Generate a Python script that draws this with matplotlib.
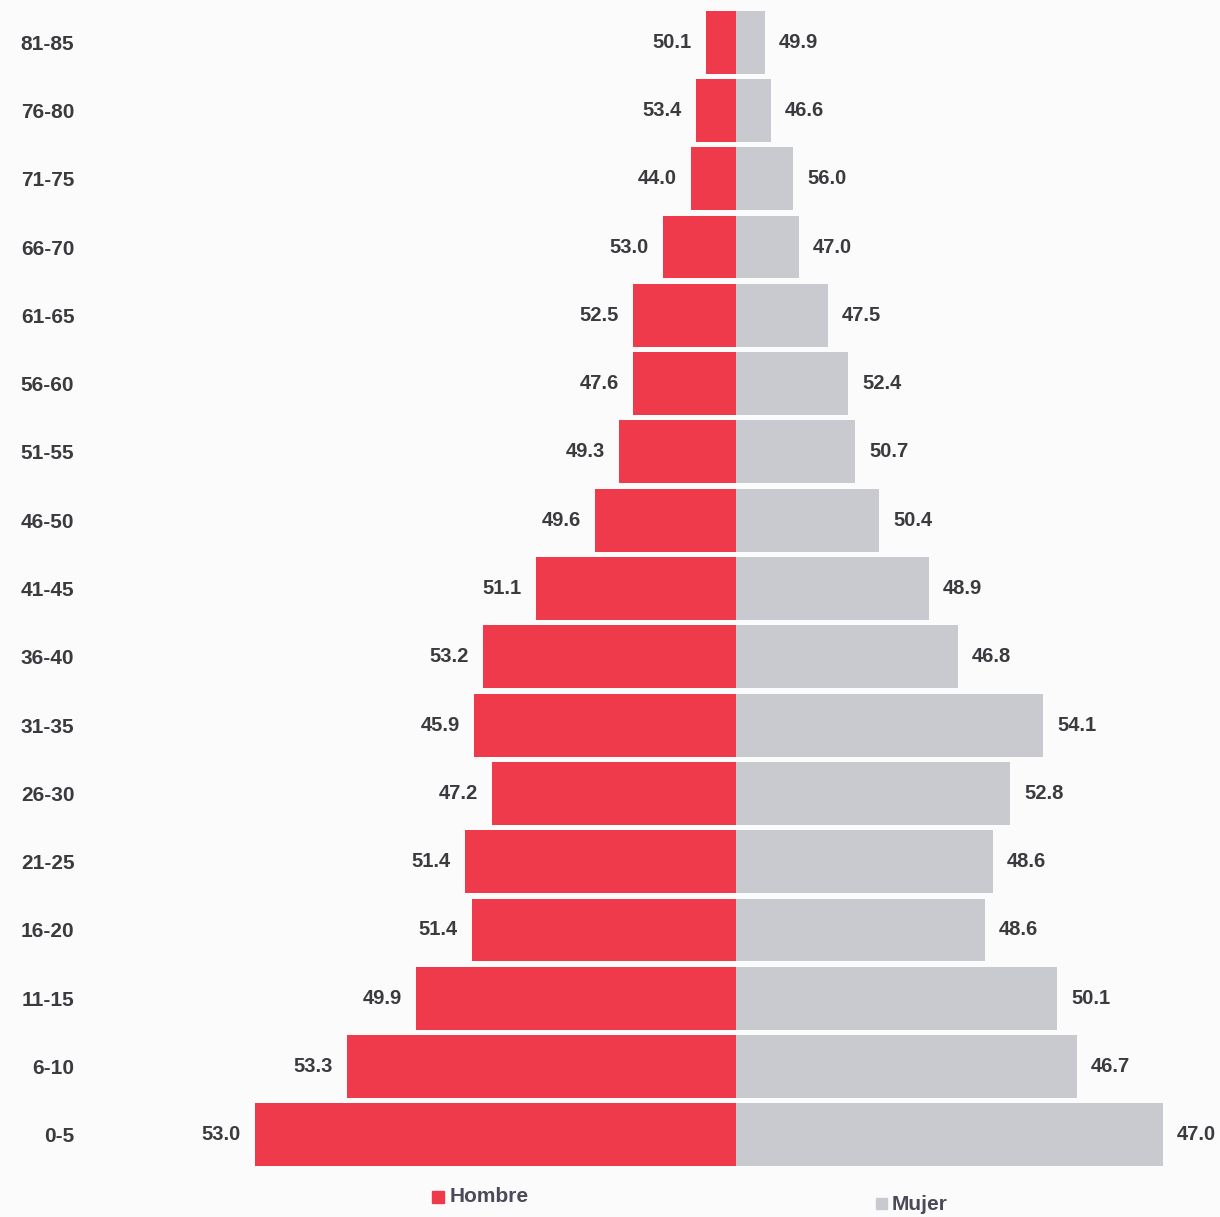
import matplotlib.pyplot as plt
from matplotlib.patches import Rectangle

plt.rcParams['font.family'] = ['Liberation Sans Narrow', 'Liberation Sans', 'DejaVu Sans']
plt.rcParams['font.weight'] = 'bold'

# grupos de edad, de abajo hacia arriba
edades = ['0-5', '6-10', '11-15', '16-20', '21-25', '26-30', '31-35', '36-40',
          '41-45', '46-50', '51-55', '56-60', '61-65', '66-70', '71-75', '76-80', '81-85']
# largo de las barras (poblacion relativa)
hombres = [481, 389, 320, 264, 271, 244, 262, 253, 200, 141, 117, 103, 103, 73, 45, 40, 30]
mujeres = [427, 341, 321, 249, 257, 274, 307, 222, 193, 143, 119, 112, 92, 63, 57, 35, 29]
# porcentaje por sexo dentro de cada grupo
pct_hombres = [53.0, 53.3, 49.9, 51.4, 51.4, 47.2, 45.9, 53.2, 51.1, 49.6, 49.3, 47.6, 52.5, 53.0, 44.0, 53.4, 50.1]
pct_mujeres = [47.0, 46.7, 50.1, 48.6, 48.6, 52.8, 54.1, 46.8, 48.9, 50.4, 50.7, 52.4, 47.5, 47.0, 56.0, 46.6, 49.9]

rojo = '#ee3a4b'
gris = '#c9c9d0'
texto = '#3b3b3f'
fondo = '#fbfbfb'

fig = plt.figure(figsize=(12.2, 12.17), dpi=100, facecolor=fondo)
ax = fig.add_axes([98 / 1220, 1 - 1169 / 1217, 1 - 98 / 1220, 1161 / 1217])
ax.set_facecolor(fondo)

y = list(range(len(edades)))
ax.barh(y, [-h for h in hombres], height=0.92, color=rojo, edgecolor='none')
ax.barh(y, mujeres, height=0.92, color=gris, edgecolor='none')

# etiquetas de porcentaje
for i in y:
    ax.text(-hombres[i] - 14, i, f'{pct_hombres[i]:.1f}', ha='right', va='center',
            fontsize=14.5, color=texto, fontweight='bold')
    ax.text(mujeres[i] + 14, i, f'{pct_mujeres[i]:.1f}', ha='left', va='center',
            fontsize=14.5, color=texto, fontweight='bold')

ax.set_xlim(-638, 484)
ax.set_ylim(-0.5, len(edades) - 0.5)
ax.set_yticks(y)
ax.set_yticklabels(edades, fontsize=15, color=texto, fontweight='bold')
ax.tick_params(axis='y', length=0, pad=17)
ax.set_xticks([])
for s in ax.spines.values():
    s.set_visible(False)

# leyenda
fig.patches.append(Rectangle((432 / 1220, 1 - 1203 / 1217), 12 / 1220, 12 / 1217,
                             transform=fig.transFigure, color=rojo))
fig.text(450 / 1220, 1 - 1197 / 1217, 'Hombre', ha='left', va='center',
         fontsize=15, color='#4a4a58', fontweight='bold')
fig.patches.append(Rectangle((876 / 1220, 1 - 1209 / 1217), 11 / 1220, 11 / 1217,
                             transform=fig.transFigure, color=gris))
fig.text(892 / 1220, 1 - 1204 / 1217, 'Mujer', ha='left', va='center',
         fontsize=15, color='#4a4a58', fontweight='bold')

plt.savefig('out.png', dpi=100, facecolor=fondo)
